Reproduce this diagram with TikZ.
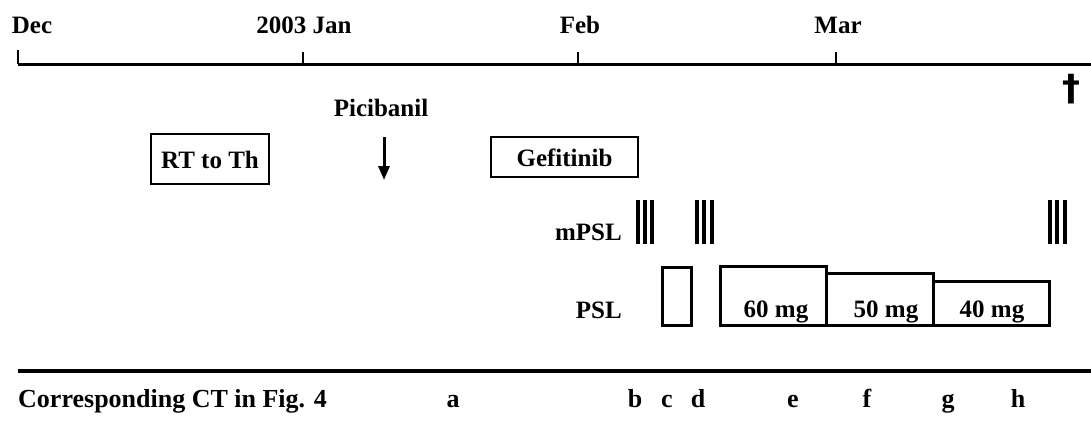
\documentclass[tikz,border=0pt]{standalone}
\usepackage{fontspec}
\setmainfont{Liberation Serif}
\newfontfamily\crossfont{DejaVu Sans}
\usetikzlibrary{arrows.meta}

\begin{document}
\begin{tikzpicture}[x=1pt, y=-1pt, line cap=butt, line join=miter,
    lbl/.style={font=\fontsize{25}{29}\selectfont\bfseries, inner sep=0pt},
    ctlbl/.style={font=\fontsize{26}{30}\selectfont\bfseries, inner sep=0pt, anchor=base},
    tbox/.style={draw, line width=2.8pt, inner sep=0pt},
    bar/.style={line width=4pt}]
  \useasboundingbox (0,0) rectangle (1091,423);
  % time axis with month ticks
  \coordinate (axL) at (18,64);
  \coordinate (axR) at (1091,64);
  \draw[line width=3pt] (axL) -- (axR);
  \draw[line width=2.5pt] (18,50) -- (18,64);
  \foreach \x in {303,578,836} \draw[line width=1.5pt] (\x,52) -- (\x,64);
  \node[lbl, anchor=base] (dec) at (32,33) {Dec};
  \node[lbl, anchor=base] (jan) at (304,33) {2003 Jan};
  \node[lbl, anchor=base] (feb) at (580,33) {Feb};
  \node[lbl, anchor=base] (mar) at (838,33) {Mar};
  \node[font=\fontsize{36}{40}\selectfont\crossfont\bfseries, inner sep=0pt] (death) at (1071,89) {†};

  % treatments
  \node[tbox, minimum width=118, minimum height=50] (rt) at (210,159) {};
  \node[lbl, anchor=base] (rtlbl) at (210,168) {RT to Th};
  \node[lbl, anchor=base] (pici) at (381,116) {Picibanil};
  \coordinate (piciA) at (384,137);
  \coordinate (piciB) at (384,180);
  \draw[line width=3pt, -{Triangle[length=14pt, width=11pt]}] (piciA) -- (piciB);
  \node[tbox, minimum width=147, minimum height=40] (gef) at (564.5,157) {};
  \node[lbl, anchor=base] (geflbl) at (564.5,166) {Gefitinib};

  % steroid pulses
  \node[lbl, anchor=base east] (mpsl) at (622,240) {mPSL};
  \foreach \x in {638,645,652,697,704,712,1050,1057,1065}
    \draw[bar] (\x,200) -- (\x,244);

  % oral steroid doses
  \node[lbl, anchor=base east] (psl) at (622,318) {PSL};
  \node[tbox, minimum width=29, minimum height=58, anchor=south west] (p0) at (661,327) {};
  \node[tbox, minimum width=106, minimum height=59, anchor=south west] (p60) at (719,327) {};
  \node[tbox, minimum width=107, minimum height=52, anchor=south west] (p50) at (825,327) {};
  \node[tbox, minimum width=116, minimum height=44, anchor=south west] (p40) at (932,327) {};
  \node[lbl, anchor=base] (t60) at (776,317) {60 mg};
  \node[lbl, anchor=base] (t50) at (886,317) {50 mg};
  \node[lbl, anchor=base] (t40) at (992,317) {40 mg};

  % CT row
  \coordinate (ctL) at (18,371);
  \coordinate (ctR) at (1091,371);
  \draw[line width=3.5pt] (ctL) -- (ctR);
  \node[ctlbl, anchor=base west] (ct) at (18,407) {Corresponding CT in Fig. 4};
  \foreach \l/\x in {a/453,b/635,c/667,d/698,e/793,f/867,g/948,h/1018}
    \node[ctlbl] (ct\l) at (\x,407) {\l};
\end{tikzpicture}
\end{document}
